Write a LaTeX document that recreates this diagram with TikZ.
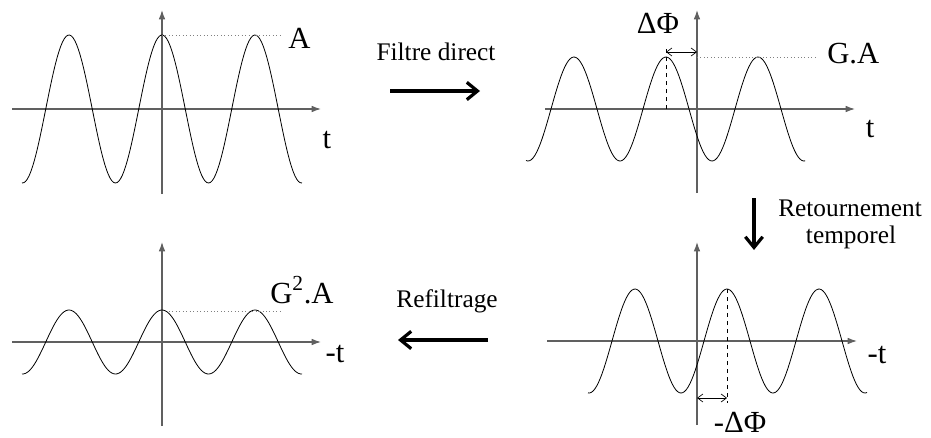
\documentclass[tikz,border=0pt]{standalone}
\usepackage{fontspec}
\setmainfont{Liberation Serif}
\usetikzlibrary{arrows.meta, positioning}
\tikzset{
  axisline/.style={gray!75!black, line width=0.9pt, -{Latex[length=7pt,width=5pt]}},
  wave/.style={black, line width=0.6pt},
  peakline/.style={gray, dotted, line width=0.6pt},
  phasearrow/.style={line width=0.5pt, {Straight Barb[length=4pt,width=6pt]}-{Straight Barb[length=4pt,width=6pt]}},
  lbl/.style={font=\fontsize{23}{26}\selectfont, inner sep=0pt},
  steplabel/.style={font=\fontsize{19}{22}\selectfont, inner sep=0pt},
  bigarrow/.style={line width=2.4pt, -{Straight Barb[length=8pt,width=13pt]}}
}

\begin{document}
\begin{tikzpicture}[x=0.75pt, y=0.75pt]
  \useasboundingbox (0,0) rectangle (931,437);
  % original signal
  \begin{scope}[shift={(162,328)}]
    \draw[axisline] (-150,0) -- (159,0);
    \draw[axisline] (0,-85) -- (0,99);
    \draw[wave] plot[domain=-140:140, samples=160] (\x, {74*cos(3.871*\x)});
    \draw[peakline] (0,74) -- (121,74);
    \node[lbl, anchor=base west] (ampA) at (126,61) {A};
    \node[lbl, anchor=base] (timeA) at (165,-39) {t};
  \end{scope}
  % filtered signal
  \begin{scope}[shift={(697,328)}]
    \draw[axisline] (-152,0) -- (158,0);
    \draw[axisline] (0,-84) -- (0,99);
    \draw[wave] plot[domain=-171:108, samples=160] (\x, {52*cos(3.913*(\x+31))});
    \draw[dashed, line width=0.5pt] (-31,0) -- (-31,62);
    \draw[phasearrow] (-31,57) -- (0,57);
    \draw[peakline] (0,52) -- (121,52);
    \node[lbl, anchor=base west] (ampB) at (130,46) {G.A};
    \node[lbl, anchor=base] (phaseB) at (-39,76) {ΔΦ};
    \node[lbl, anchor=base] (timeB) at (173,-28) {t};
  \end{scope}
  % time reversed signal
  \begin{scope}[shift={(697,96)}]
    \draw[axisline] (-150,0) -- (160,0);
    \draw[axisline] (0,-84) -- (0,99);
    \draw[wave] plot[domain=-109:170, samples=160] (\x, {52*cos(3.913*(\x-30))});
    \draw[dashed, line width=0.5pt] (30,52) -- (30,-62);
    \draw[phasearrow] (0,-57) -- (30,-57);
    \node[lbl, anchor=base] (phaseC) at (43,-91) {-ΔΦ};
    \node[lbl, anchor=base] (timeC) at (180,-22) {-t};
  \end{scope}
  % refiltered signal
  \begin{scope}[shift={(162,95)}]
    \draw[axisline] (-150,0) -- (159,0);
    \draw[axisline] (0,-84) -- (0,100);
    \draw[wave] plot[domain=-140:140, samples=160] (\x, {32*cos(3.871*\x)});
    \draw[peakline] (0,31) -- (121,31);
    \node[lbl, anchor=base west] (ampD) at (108,39) {G\textsuperscript{2}.A};
    \node[lbl, anchor=base] (timeD) at (173,-20) {-t};
  \end{scope}
  % steps
  \coordinate (fwdstart) at (390,346);
  \coordinate (fwdend) at (480,346);
  \draw[bigarrow] (fwdstart) -- (fwdend);
  \node[steplabel, anchor=base] (fwdlbl) at (436,377) {Filtre direct};
  \coordinate (revstart) at (754,239);
  \coordinate (revend) at (754,187);
  \draw[bigarrow] (revstart) -- (revend);
  \node[steplabel, anchor=base] (revlbl) at (850,221) {Retournement};
  \node[steplabel, anchor=base] (revlbltwo) at (851,194) {temporel};
  \coordinate (refstart) at (488,97);
  \coordinate (refend) at (398,97);
  \draw[bigarrow] (refstart) -- (refend);
  \node[steplabel, anchor=base] (reflbl) at (447,130) {Refiltrage};
\end{tikzpicture}
\end{document}
